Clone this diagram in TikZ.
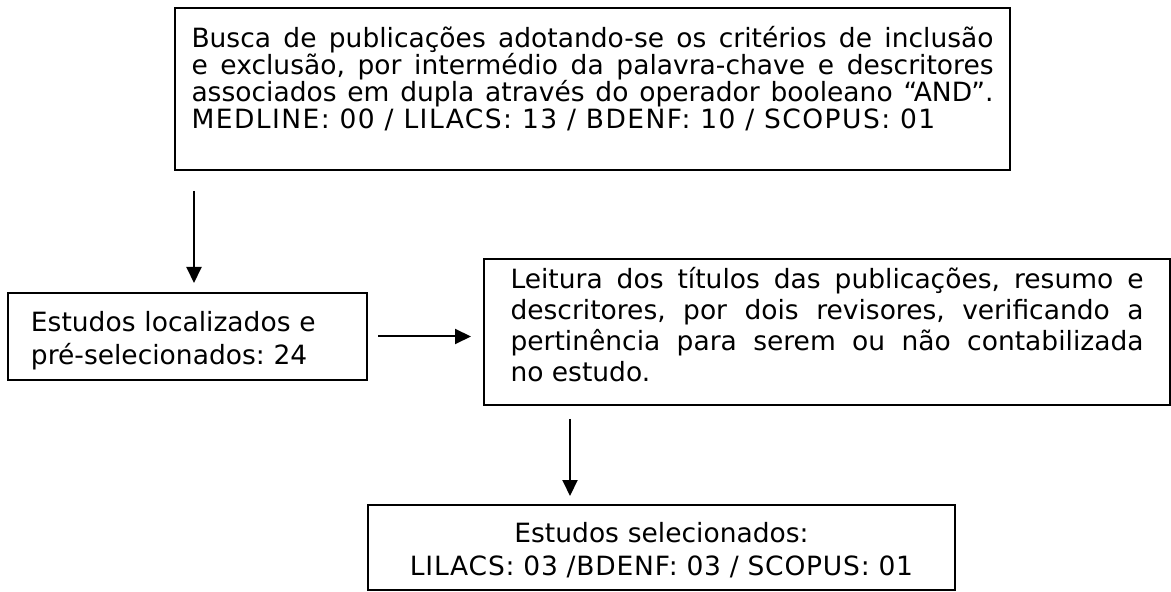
\documentclass[tikz,border=0pt]{standalone}
\usepackage{fontspec}
\setmainfont{DejaVu Sans}
\usetikzlibrary{arrows.meta}

\begin{document}
\begin{tikzpicture}[x=0.5pt, y=-0.5pt,
    box/.style={draw, line width=1pt, outer sep=0pt, inner ysep=0pt, execute at begin node=\frenchspacing},
    arr/.style={-{Triangle[length=8pt, width=7.5pt]}, line width=1pt}]

    \useasboundingbox (0, 0) rectangle (1171, 592);

    % Declare the boxes
    \node[box, text width=401pt, inner xsep=8.25pt, text height=20pt, text depth=61pt,
        align=justify, font=\fontsize{13.25}{13.5}\selectfont] at (592.5, 89) (Bus)
        {Busca de publicações adotando-se os critérios de inclusão\linebreak
         e exclusão, por intermédio da palavra-chave e descritores\linebreak
         associados em dupla através do operador booleano “AND”.\linebreak
         {\addfontfeatures{LetterSpace=5.5}MEDLINE: 00 / LILACS: 13 / BDENF: 10 / SCOPUS: 01}};
    \node[box, text width=156.5pt, inner xsep=11.5pt, text height=19.5pt, text depth=24pt,
        align=left, font=\fontsize{13.25}{16.5}\selectfont] at (187.5, 336.5) (Loc)
        {Estudos localizados e\\pré-selecionados: 24};
    \node[box, text width=316.5pt, inner xsep=13.25pt, text height=15pt, text depth=58pt,
        align=justify, font=\fontsize{13.25}{15.5}\selectfont] at (827, 332) (Lei)
        {Leitura dos títulos das publicações, resumo e\linebreak
         descritores, por dois revisores, verificando a\linebreak
         pertinência para serem ou não contabilizada\linebreak
         no estudo.};
    \node[box, text width=270pt, inner xsep=11.75pt, text height=18.5pt, text depth=24pt,
        align=center, font=\fontsize{13.25}{16.5}\selectfont] at (661.5, 547.5) (Sel)
        {Estudos selecionados:\\{\addfontfeatures{LetterSpace=3}LILACS: 03 /BDENF: 03 / SCOPUS: 01}};

    % Declare arrows
    \draw[arr, shorten <=10.5pt, shorten >=5pt] ([xshift=9.5pt]Bus.south west) -- ([xshift=9.5pt]Bus.south west |- Loc.north);
    \draw[arr, shorten <=5.5pt, shorten >=6.5pt] (Loc.east) -- (Loc.east -| Lei.west);
    \draw[arr, shorten <=7pt, shorten >=4.5pt] ([xshift=43pt]Lei.south west) -- ([xshift=43pt]Lei.south west |- Sel.north);

\end{tikzpicture}
\end{document}
